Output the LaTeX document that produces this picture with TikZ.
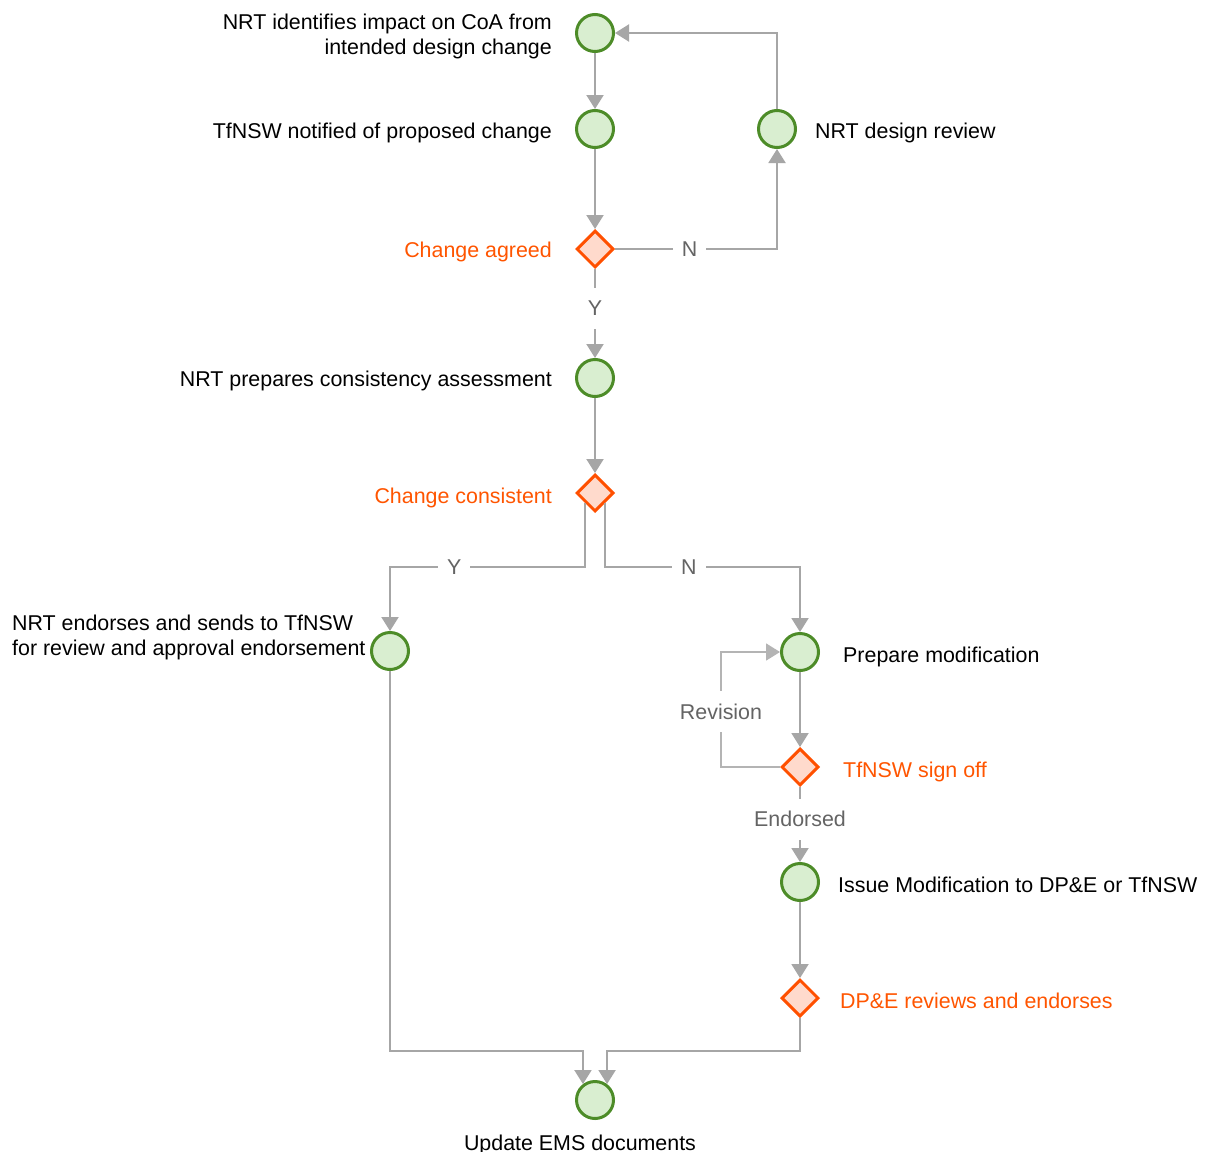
\documentclass[tikz,border=0pt]{standalone}
\usepackage{fontspec}
\setmainfont{Liberation Sans}
\usetikzlibrary{shapes.geometric,arrows.meta,calc}
\definecolor{taskline}{RGB}{77,140,40}
\definecolor{taskfill}{RGB}{217,238,208}
\definecolor{gateline}{RGB}{255,80,0}
\definecolor{gatefill}{RGB}{255,218,204}
\definecolor{gatetext}{RGB}{255,85,0}
\definecolor{flowgray}{RGB}{166,166,166}
\definecolor{loopgray}{RGB}{180,180,180}
\definecolor{lblgray}{RGB}{100,100,100}
\begin{document}
\begin{tikzpicture}[x=1pt,y=-1pt,
  task/.style={circle, draw=taskline, fill=taskfill, line width=3pt, minimum size=37pt, inner sep=0pt},
  gate/.style={diamond, draw=gateline, fill=gatefill, line width=3pt, minimum size=37pt, inner sep=0pt},
  flow/.style={draw=flowgray, line width=2pt, -{Triangle[width=17pt,length=14pt]}},
  loopflow/.style={draw=loopgray, line width=1.5pt, -{Triangle[width=17pt,length=14pt]}},
  lbl/.style={fill=white, text=lblgray, font=\fontsize{21.4pt}{25pt}\selectfont, text height=15pt, text depth=0pt, inner xsep=9pt, inner ysep=13pt},
  txt/.style={font=\fontsize{21.4pt}{25pt}\selectfont, inner sep=0pt},
  gtxt/.style={txt, text=gatetext}]
\useasboundingbox (0,0) rectangle (1206,1151);
\fill[white] (0,0) rectangle (1206,1151);

% nodes
\node[task] (A) at (595,33) {};
\node[task] (B) at (595,129) {};
\node[task] (R) at (777,129) {};
\node[gate] (D1) at (595,249) {};
\node[task] (C) at (595,378) {};
\node[gate] (D2) at (595,493) {};
\node[task] (E) at (390,651) {};
\node[task] (P) at (800,652) {};
\node[gate] (D3) at (800,767) {};
\node[task] (I) at (800,882) {};
\node[gate] (D4) at (800,998) {};
\node[task] (U) at (595,1100) {};

\coordinate (splitY) at (0,567);
\coordinate (joinY) at (0,1051);

% texts
\node[txt, anchor=east, align=right] (tA) at (552,36) {NRT identifies impact on CoA from\\intended design change};
\node[txt, anchor=base east] (tB) at (552,138.5) {TfNSW notified of proposed change};
\node[txt, anchor=base west] (tR) at (815,138.5) {NRT design review};
\node[gtxt, anchor=base east] (tD1) at (552,257.5) {Change agreed};
\node[txt, anchor=base east] (tC) at (552,386.5) {NRT prepares consistency assessment};
\node[gtxt, anchor=base east] (tD2) at (552,503) {Change consistent};
\node[txt, anchor=west, align=left] (tE) at (12,637) {NRT endorses and sends to TfNSW\\for review and approval endorsement};
\node[txt, anchor=base west] (tP) at (843,662) {Prepare modification};
\node[gtxt, anchor=base west] (tD3) at (843,777) {TfNSW sign off};
\node[txt, anchor=base west] (tI) at (838,892) {Issue Modification to DP\&E or TfNSW};
\node[gtxt, anchor=base west] (tD4) at (840,1008.5) {DP\&E reviews and endorses};
\node[txt, anchor=base] (tU) at (580,1150) {Update EMS documents};

% connectors
\draw[flow] (A) -- (B);
\draw[flow] (B) -- (D1);
\draw[flow] (D1.east) -- node[lbl,pos=0.46]{N} (D1.east -| R.south) -- (R.south);
\draw[flow] (R.north) |- (A.east);
\draw[flow] (D1.south) -- node[lbl,pos=0.44]{Y} (C.north);
\draw[flow] (C) -- (D2);
\draw[flow] (D2.south west) -- (D2.south west |- splitY) -- node[lbl,pos=0.67]{Y} (E.north |- splitY) -- (E.north);
\draw[flow] (D2.south east) -- (D2.south east |- splitY) -- node[lbl,pos=0.43]{N} (P.north |- splitY) -- (P.north);
\draw[flow] (P) -- (D3);
\draw[loopflow] (D3.west) -| node[lbl,pos=0.74]{Revision} ($(P.west)+(-59,0)$) -- (P.west);
\draw[flow] (D3.south) -- node[lbl,pos=0.43]{Endorsed} (I.north);
\draw[flow] (I) -- (D4);
\draw[flow] (E.south) |- (U.127 |- joinY) -- (U.127);
\draw[flow] (D4.south) |- (U.53 |- joinY) -- (U.53);
\end{tikzpicture}
\end{document}
